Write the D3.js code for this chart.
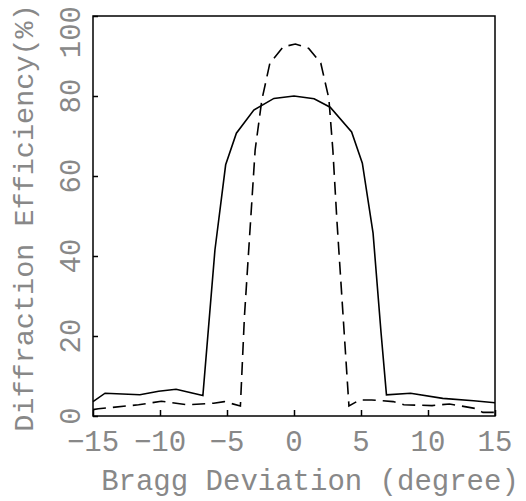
<!DOCTYPE html>
<html>
<head>
<meta charset="utf-8">
<script src="https://cdn.jsdelivr.net/npm/d3@7"></script>
<style>
  body { margin: 0; background: #fff; }
  svg text { font-family: "Liberation Mono", "DejaVu Sans Mono", monospace; fill: #888; }
</style>
</head>
<body>
<div class="graph-container"></div>
<script>
// solid curve: bragg deviation (deg) vs efficiency (%)
var solidX = [-15, -14.1, -11.5, -10.1, -8.8, -6.8, -5.9, -5.1, -4.3, -3.0, -1.5, 0, 1.5, 2.7, 4.3, 5.1, 5.9, 6.5, 6.9, 8.7, 11.1, 13.4, 15];
var solidY = [3.6, 5.7, 5.3, 6.2, 6.7, 5.1, 41.5, 62.8, 70.7, 76.5, 79.4, 80, 79.3, 77.2, 71, 63.2, 45.7, 20.7, 5.3, 5.7, 4.4, 3.8, 3.3];

// dashed curve
var dashX = [-15, -14.6, -11.6, -9.9, -8.0, -6.0, -5.2, -4.0, -3.7, -2.9, -2.4, -1.8, -0.8, 0.1, 1.1, 2.0, 2.6, 2.9, 3.2, 4.1, 4.9, 5.8, 7.4, 8.2, 10.3, 11.6, 13.5, 14.1, 15];
var dashY = [1.6, 1.8, 2.8, 3.7, 2.8, 3.2, 3.6, 2.5, 24.8, 66.5, 79, 88.2, 92.3, 93, 91.9, 88.2, 79.4, 66.5, 49, 2.5, 4, 4, 3.6, 2.8, 2.6, 3.0, 1.9, 0.9, 0.9];

var xTicks = [-15, -10, -5, 0, 5, 10, 15];
var yTicks = [0, 20, 40, 60, 80, 100];

var svgWidth = 526;
var svgHeight = 501;
var plotLeft = 93, plotRight = 495, plotTop = 16, plotBottom = 416;
var fontSize = 29;

var svg = d3.select('.graph-container').append('svg')
  .attr('width', svgWidth)
  .attr('height', svgHeight);

var xScale = d3.scaleLinear().domain([-15, 15]).range([plotLeft, plotRight]);
var yScale = d3.scaleLinear().domain([0, 100]).range([plotBottom, plotTop]);

// frame
svg.append('rect')
  .attr('x', plotLeft)
  .attr('y', plotTop)
  .attr('width', plotRight - plotLeft)
  .attr('height', plotBottom - plotTop)
  .attr('fill', 'none')
  .attr('stroke', '#000')
  .attr('stroke-width', 1.5);

// ticks pointing inside
svg.append('g')
  .attr('transform', 'translate(0,' + plotBottom + ')')
  .call(d3.axisBottom(xScale).tickValues(xTicks).tickSizeInner(-6).tickSizeOuter(0).tickFormat(''))
  .call(function(g) { g.select('.domain').remove(); })
  .selectAll('line').attr('stroke-width', 1.5);

svg.append('g')
  .attr('transform', 'translate(' + plotLeft + ',0)')
  .call(d3.axisLeft(yScale).tickValues(yTicks).tickSizeInner(-5).tickSizeOuter(0).tickFormat(''))
  .call(function(g) { g.select('.domain').remove(); })
  .selectAll('line').attr('stroke-width', 1.5);

// x tick labels
svg.selectAll('.xlab')
  .data(xTicks)
  .enter()
  .append('text')
  .attr('class', 'xlab')
  .attr('x', function(d) { return xScale(d); })
  .attr('y', 451)
  .attr('text-anchor', 'middle')
  .style('font-size', fontSize + 'px')
  .text(function(d) { return d < 0 ? '\u2212' + Math.abs(d) : d; });

// y tick labels, rotated; keep the top one inside the page
svg.selectAll('.ylab')
  .data(yTicks)
  .enter()
  .append('text')
  .attr('class', 'ylab')
  .attr('transform', function(d) {
    var half = String(d).length * fontSize * 0.3;
    var y = Math.max(yScale(d), half + 6);
    return 'translate(80,' + y + ') rotate(-90)';
  })
  .attr('text-anchor', 'middle')
  .style('font-size', fontSize + 'px')
  .text(function(d) { return d; });

// axis titles
svg.append('text')
  .attr('x', 310)
  .attr('y', 490)
  .attr('text-anchor', 'middle')
  .style('font-size', fontSize + 'px')
  .text('Bragg Deviation (degree)');

svg.append('text')
  .attr('transform', 'translate(33,218) rotate(-90)')
  .attr('text-anchor', 'middle')
  .style('font-size', '28.5px')
  .text('Diffraction Efficiency(%)');

// curves
var line = d3.line()
  .x(function(d) { return xScale(d[0]); })
  .y(function(d) { return yScale(d[1]); });

svg.append('path')
  .datum(d3.zip(solidX, solidY))
  .attr('d', line)
  .attr('fill', 'none')
  .attr('stroke', '#000')
  .attr('stroke-width', 1.6);

svg.append('path')
  .datum(d3.zip(dashX, dashY))
  .attr('d', line)
  .attr('fill', 'none')
  .attr('stroke', '#000')
  .attr('stroke-width', 1.6)
  .attr('stroke-dasharray', '13,7');
</script>
</body>
</html>
